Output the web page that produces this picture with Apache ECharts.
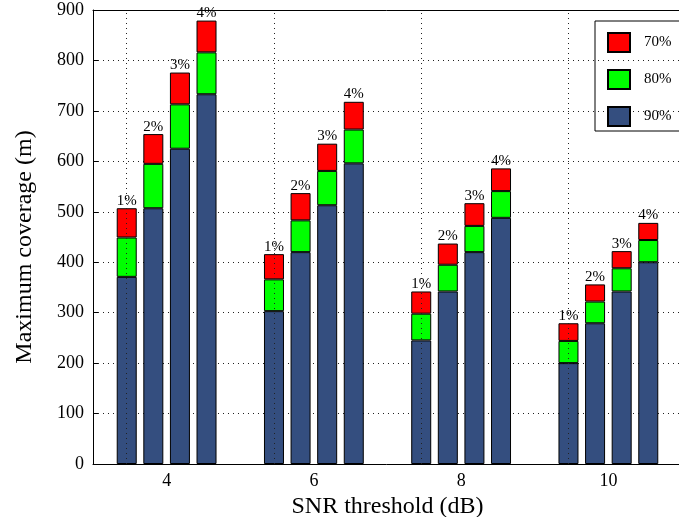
<!DOCTYPE html>
<html>
<head>
<meta charset="utf-8">
<script src="https://cdn.jsdelivr.net/npm/echarts@6/dist/echarts.min.js"></script>
<style>
html,body{margin:0;padding:0;background:#fff;}
#chart{width:679px;height:517px;}
</style>
</head>
<body>
<div id="chart"></div>
<script>
// SNR threshold categories (dB)
const categories = ['4', '6', '8', '10'];
// bar labels (one bar per percentage within each SNR group)
const pctLabels = ['1%', '2%', '3%', '4%'];
// coverage levels (legend)
const levelNames = ['70%', '80%', '90%'];
// y-axis tick values
const yTicks = [0, 100, 200, 300, 400, 500, 600, 700, 800, 900];

// Maximum coverage (m); rows: 1%,2%,3%,4%; columns: SNR 4,6,8,10
const cov90 = [
  [371, 303, 245, 200],
  [507, 420, 342, 279],
  [625, 513, 420, 342],
  [733, 596, 488, 400]
];
const cov80 = [
  [449, 366, 298, 244],
  [595, 483, 395, 322],
  [713, 581, 472, 388],
  [816, 663, 541, 444]
];
const cov70 = [
  [507, 416, 342, 279],
  [654, 537, 437, 356],
  [776, 635, 517, 422],
  [879, 718, 586, 478]
];

const FONT = "'Liberation Serif', 'Times New Roman', serif";
const COLORS = { '90%': '#344E7F', '80%': '#00FF00', '70%': '#FF0000' };

const series = [];
pctLabels.forEach(function (pl, p) {
  const base = cov90[p];
  const mid = cov80[p].map(function (v, i) { return v - cov90[p][i]; });
  const top = cov70[p].map(function (v, i) { return v - cov80[p][i]; });
  const common = {
    type: 'bar',
    stack: 'pct' + p,
    barWidth: 20,
    barGap: '33%',
    emphasis: { disabled: true },
    animation: false
  };
  const s90 = Object.assign({}, common, {
    name: '90%', data: base,
    itemStyle: { color: COLORS['90%'], borderColor: '#000', borderWidth: 1 }
  });
  if (p === 0) {
    s90.markLine = {
      silent: true,
      symbol: 'none',
      label: { show: false },
      lineStyle: { color: '#222', width: 1, type: [1, 4] },
      data: categories.map(function (c) { return { xAxis: c }; })
    };
  }
  series.push(s90);
  series.push(Object.assign({}, common, {
    name: '80%', data: mid,
    itemStyle: { color: COLORS['80%'], borderColor: '#000', borderWidth: 1 }
  }));
  series.push(Object.assign({}, common, {
    name: '70%', data: top,
    itemStyle: { color: COLORS['70%'], borderColor: '#000', borderWidth: 1 },
    label: {
      show: true, position: 'top', distance: 0,
      formatter: pl,
      color: '#000', fontFamily: FONT, fontSize: 15
    }
  }));
});

const chart = echarts.init(document.getElementById('chart'), null, { renderer: 'canvas' });
chart.setOption({
  animation: false,
  backgroundColor: '#fff',
  textStyle: { fontFamily: FONT },
  grid: { left: 93, top: 10, width: 589, height: 454, containLabel: false, outerBoundsMode: 'none' },
  legend: {
    data: levelNames,
    orient: 'vertical',
    left: 595, top: 21,
    itemWidth: 22, itemHeight: 19, itemGap: 16,
    padding: [11, 40, 4, 12],
    borderColor: '#000', borderWidth: 1,
    backgroundColor: 'transparent',
    icon: 'rect',
    selectedMode: false,
    textStyle: { fontFamily: FONT, fontSize: 15, color: '#000', padding: [0, 0, 0, 9] }
  },
  xAxis: [{
    type: 'category',
    data: categories,
    position: 'bottom',
    name: 'SNR threshold (dB)',
    nameLocation: 'middle',
    nameGap: 26,
    nameTextStyle: { fontFamily: FONT, fontSize: 24, color: '#000' },
    axisLine: { lineStyle: { color: '#000', width: 1 } },
    axisTick: { inside: true, alignWithLabel: true, length: 5, lineStyle: { color: '#000' } },
    axisLabel: { fontFamily: FONT, fontSize: 18, color: '#000', margin: 8 },
    splitLine: { show: false }
  }, {
    type: 'category',
    data: categories,
    position: 'top',
    axisLine: { lineStyle: { color: '#000', width: 1 } },
    axisTick: { inside: true, alignWithLabel: true, length: 5, lineStyle: { color: '#000' } },
    axisLabel: { show: false },
    splitLine: { show: false }
  }],
  yAxis: {
    type: 'value',
    min: yTicks[0], max: yTicks[yTicks.length - 1], interval: 100,
    name: 'Maximum coverage (m)',
    nameLocation: 'middle',
    nameGap: 56,
    nameTextStyle: { fontFamily: FONT, fontSize: 24, color: '#000', padding: [0, 20, 0, 0] },
    axisLine: { show: true, lineStyle: { color: '#000', width: 1 } },
    axisTick: { show: true, inside: true, length: 5, lineStyle: { color: '#000' } },
    axisLabel: { fontFamily: FONT, fontSize: 18, color: '#000', margin: 9 },
    splitLine: { show: true, lineStyle: { color: '#222', width: 1, type: [1, 4] } }
  },
  series: series
});
</script>
</body>
</html>
